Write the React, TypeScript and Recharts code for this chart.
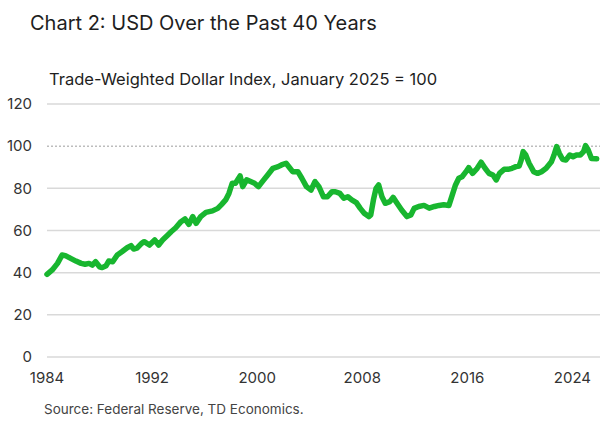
import React from "react";
import { LineChart, Line, XAxis, YAxis, ReferenceLine } from "recharts";

const dates: number[] = [
  1984.0, 1984.4, 1984.8, 1985.15, 1985.4, 1985.8, 1986.2, 1986.6, 1986.9, 1987.2,
  1987.45, 1987.7, 1988.0, 1988.2, 1988.5, 1988.7, 1989.0, 1989.35, 1989.7, 1990.1,
  1990.4, 1990.6, 1990.85, 1991.2, 1991.4, 1991.8, 1992.2, 1992.5, 1992.8, 1993.2,
  1993.45, 1993.8, 1994.2, 1994.5, 1994.8, 1995.1, 1995.35, 1995.7, 1996.1, 1996.6,
  1997.0, 1997.3, 1997.6, 1997.85, 1998.1, 1998.35, 1998.7, 1998.9, 1999.2, 1999.5,
  1999.8, 2000.1, 2000.5, 2000.8, 2001.2, 2001.6, 2001.85, 2002.2, 2002.5, 2002.7,
  2003.1, 2003.4, 2003.75, 2004.1, 2004.4, 2004.7, 2005.05, 2005.35, 2005.7, 2005.95,
  2006.3, 2006.6, 2006.9, 2007.2, 2007.55, 2007.85, 2008.15, 2008.5, 2008.65, 2008.85,
  2009.05, 2009.25, 2009.5, 2009.75, 2010.1, 2010.35, 2010.65, 2011.0, 2011.4, 2011.7,
  2011.95, 2012.3, 2012.7, 2013.1, 2013.5, 2013.85, 2014.2, 2014.6, 2014.85, 2015.1,
  2015.35, 2015.6, 2015.9, 2016.1, 2016.4, 2016.75, 2017.05, 2017.35, 2017.65, 2017.95,
  2018.2, 2018.45, 2018.8, 2019.1, 2019.4, 2019.7, 2019.95, 2020.1, 2020.25, 2020.45,
  2020.7, 2021.05, 2021.35, 2021.65, 2022.0, 2022.4, 2022.6, 2022.8, 2023.0, 2023.25,
  2023.5, 2023.8, 2024.05, 2024.3, 2024.6, 2024.85, 2025.0, 2025.2, 2025.45, 2025.85,
];

const dollarIndex: number[] = [
  39.2, 41.3, 44.4, 48.4, 48.1, 46.8, 45.5, 44.4, 44.0, 44.4,
  43.6, 45.2, 42.8, 42.4, 43.3, 45.5, 45.2, 48.4, 49.9, 51.8,
  52.8, 51.2, 51.6, 53.9, 54.7, 53.1, 55.5, 53.1, 55.5, 57.9,
  59.4, 61.3, 64.2, 65.5, 62.9, 66.6, 63.4, 66.6, 68.6, 69.3,
  70.5, 72.4, 74.5, 77.6, 82.4, 82.4, 85.9, 80.8, 84.0, 83.2,
  82.4, 80.8, 84.0, 86.3, 89.5, 90.3, 91.1, 91.9, 89.5, 87.9,
  87.9, 84.8, 80.8, 79.2, 83.2, 80.8, 76.0, 76.0, 78.4, 78.4,
  77.6, 75.3, 76.0, 74.5, 73.2, 70.5, 68.2, 66.6, 67.4, 74.5,
  80.0, 81.6, 76.0, 72.9, 73.7, 75.7, 72.9, 69.7, 66.6, 67.4,
  70.5, 71.4, 71.9, 70.6, 71.4, 71.9, 72.2, 71.9, 76.8, 81.6,
  84.8, 85.5, 87.9, 89.8, 87.1, 89.5, 92.4, 89.5, 87.1, 86.3,
  84.0, 87.1, 89.0, 89.0, 89.5, 90.3, 90.6, 93.4, 97.4, 95.8,
  91.9, 87.9, 87.1, 87.9, 89.5, 92.6, 95.8, 99.8, 96.6, 93.8,
  93.4, 95.8, 95.0, 95.8, 95.8, 97.4, 100.3, 98.2, 94.2, 94.0,
];

const xTicks: number[] = [1984, 1992, 2000, 2008, 2016, 2024];
const yTicks: number[] = [0, 20, 40, 60, 80, 100, 120];

const title = "Chart 2: USD Over the Past 40 Years";
const subtitle = "Trade-Weighted Dollar Index, January 2025 = 100";
const source = "Source: Federal Reserve, TD Economics.";

const data = dates.map((d, i) => ({ t: d, v: dollarIndex[i] }));

const FONT = "Inter, 'DejaVu Sans', sans-serif";

export default function App() {
  return (
    <div
      style={{
        position: "absolute",
        left: 0,
        top: 0,
        width: 600,
        height: 448,
        background: "#fff",
        fontFamily: FONT,
        overflow: "hidden",
      }}
    >
      <div
        style={{
          position: "absolute",
          left: 30,
          top: 13,
          fontSize: 20,
          lineHeight: "20px",
          color: "#1e1e1e",
          whiteSpace: "nowrap",
        }}
      >
        {title}
      </div>
      <div
        style={{
          position: "absolute",
          left: 49,
          top: 71,
          fontSize: 16.5,
          lineHeight: "16px",
          color: "#1e1e1e",
          whiteSpace: "nowrap",
        }}
      >
        {subtitle}
      </div>
      <div
        style={{
          position: "absolute",
          left: 44,
          top: 403,
          fontSize: 13.5,
          lineHeight: "13px",
          color: "#444",
          whiteSpace: "nowrap",
        }}
      >
        {source}
      </div>
      <div style={{ position: "absolute", left: 0, top: 0 }}>
        <LineChart
          width={600}
          height={448}
          data={data}
          margin={{ top: 104, right: 0, bottom: 61, left: 0 }}
        >
          <XAxis
            dataKey="t"
            type="number"
            domain={[1984, 2026.1]}
            ticks={xTicks}
            axisLine={false}
            tickLine={false}
            tickMargin={9}
            height={30}
            interval={0}
            tick={{ fill: "#333", fontSize: 15, fontFamily: FONT }}
          />
          <YAxis
            type="number"
            domain={[0, 120]}
            ticks={yTicks}
            axisLine={false}
            tickLine={false}
            tickMargin={9}
            width={47}
            interval={0}
            tick={{ fill: "#333", fontSize: 15, fontFamily: FONT }}
          />
          {yTicks.map((t) => (
            <ReferenceLine
              key={t}
              y={t}
              stroke={t === 100 ? "#bdbdbd" : "#d9d9d9"}
              strokeWidth={1.5}
              strokeDasharray={t === 100 ? "2 2" : undefined}
              ifOverflow="extendDomain"
            />
          ))}
          <Line
            type="linear"
            dataKey="v"
            stroke="#18b62f"
            strokeWidth={5.5}
            dot={false}
            strokeLinejoin="round"
            strokeLinecap="round"
            isAnimationActive={false}
          />
        </LineChart>
      </div>
    </div>
  );
}
